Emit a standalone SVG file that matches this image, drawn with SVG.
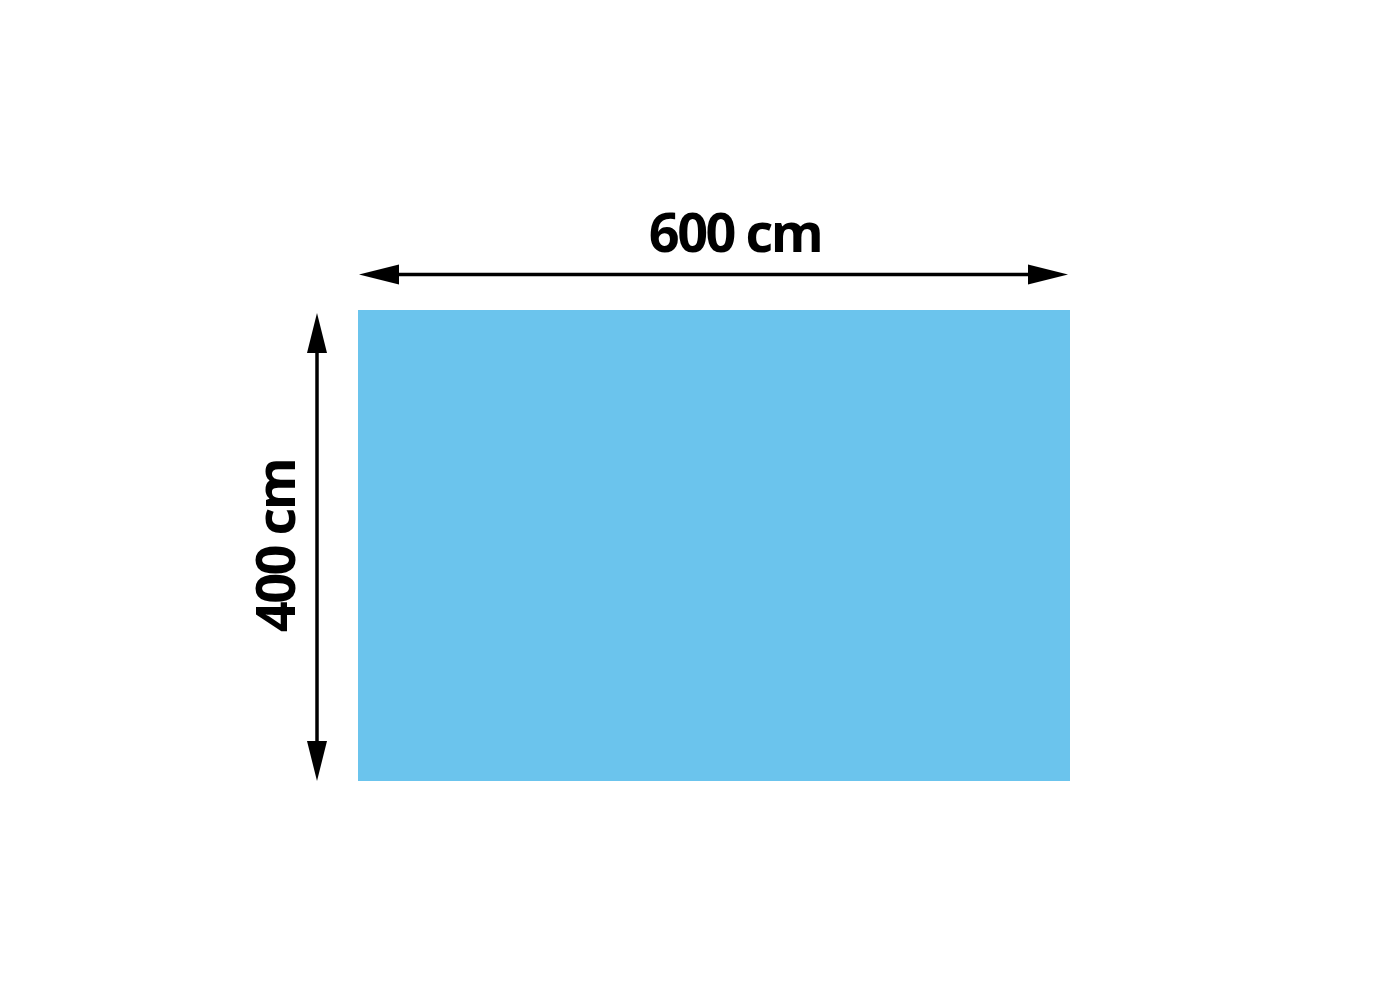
<svg xmlns="http://www.w3.org/2000/svg" width="1400" height="1000" viewBox="0 0 1400 1000">
  <style>
    .dim { stroke: #000; stroke-width: 3.5; fill: none; }
    .head { fill: #000; }
    .lbl { font-family: "Open Sans", "Liberation Sans", sans-serif; font-weight: 700; font-size: 54px; letter-spacing: -2.5px; fill: #000; text-anchor: middle; }
  </style>
  <rect width="1400" height="1000" fill="#fff"/>
  <g id="pool">
    <rect x="358" y="310" width="712" height="471" fill="#6BC4ED"/>
  </g>
  <g id="connectors">
    <line class="dim" x1="395" y1="274.5" x2="1030" y2="274.5"/>
    <polygon class="head" points="359,274.5 399,264.5 399,284.5"/>
    <polygon class="head" points="1068,274.5 1028,264.5 1028,284.5"/>
    <line class="dim" x1="317" y1="348" x2="317" y2="746"/>
    <polygon class="head" points="317,313 307,353 327,353"/>
    <polygon class="head" points="317,781 307,741 327,741"/>
  </g>
  <g id="label-width">
    <text class="lbl" x="735" y="252">600 cm</text>
  </g>
  <g id="label-height">
    <text class="lbl" transform="translate(295 546) rotate(-90)" x="0" y="0">400 cm</text>
  </g>
</svg>
